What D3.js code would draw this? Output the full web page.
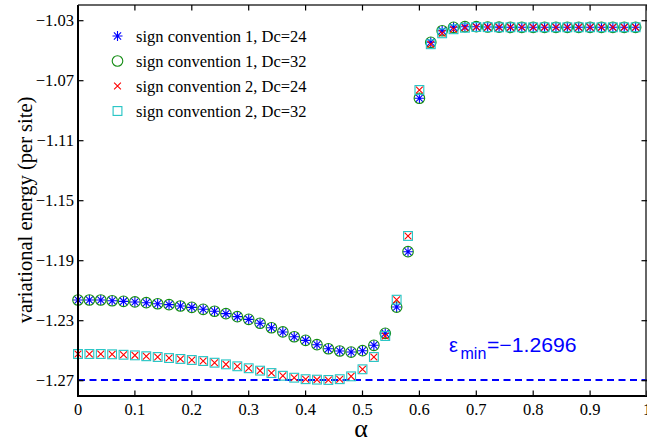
<!DOCTYPE html>
<html>
<head>
<meta charset="utf-8">
<script src="https://cdn.jsdelivr.net/npm/d3@7"></script>
<style>
  html, body { margin: 0; padding: 0; background: #fff; }
  svg { display: block; }
</style>
</head>
<body>
<svg id="chart" width="647" height="442"></svg>
<script>
// alpha grid
const alphas = d3.range(0, 50).map(i => +(i * 0.02).toFixed(2));

// sign convention 1 (Dc=24 and Dc=32 coincide)
const conv1 = [
  -1.2162, -1.2162, -1.2162, -1.2167, -1.2171, -1.2175, -1.2180, -1.2187, -1.2193, -1.2202,
  -1.2211, -1.2224, -1.2237, -1.2253, -1.2273, -1.2291, -1.2317, -1.2347, -1.2375, -1.2407,
  -1.2431, -1.2460, -1.2487, -1.2502, -1.2509, -1.2500, -1.2464, -1.2384, -1.2209, -1.1840,
  -1.0817, -1.0444, -1.0367, -1.0344, -1.0340, -1.0340, -1.0342, -1.0343, -1.0344, -1.0344,
  -1.0344, -1.0344, -1.0344, -1.0344, -1.0344, -1.0344, -1.0344, -1.0344, -1.0344, -1.0344
];
const conv1Dc32 = conv1.slice();

// sign convention 2
const conv2 = [
  -1.2522, -1.2522, -1.2522, -1.2524, -1.2527, -1.2531, -1.2537, -1.2542, -1.2549, -1.2555,
  -1.2562, -1.2569, -1.2580, -1.2591, -1.2604, -1.2617, -1.2633, -1.2649, -1.2667, -1.2680,
  -1.2690, -1.2693, -1.2695, -1.2690, -1.2671, -1.2624, -1.2542, -1.2402, -1.2160, -1.1735,
  -1.0762, -1.0457, -1.0384, -1.0357, -1.0347, -1.0342, -1.0343, -1.0344, -1.0344, -1.0344,
  -1.0344, -1.0344, -1.0344, -1.0344, -1.0344, -1.0344, -1.0344, -1.0344, -1.0344, -1.0344
];
const conv2Dc32 = conv2.slice();

const epsMin = -1.2696;

const xTicks = [0, 0.1, 0.2, 0.3, 0.4, 0.5, 0.6, 0.7, 0.8, 0.9, 1];
const yTicks = [-1.27, -1.23, -1.19, -1.15, -1.11, -1.07, -1.03];

const legendLabels = [
  "sign convention 1, Dc=24",
  "sign convention 1, Dc=32",
  "sign convention 2, Dc=24",
  "sign convention 2, Dc=32"
];

const svg = d3.select("#chart");
const L = 78, R = 647, T = 5, B = 396;

const x = d3.scaleLinear().domain([0, 1]).range([L, L + 569]);
const y = d3.scaleLinear().domain([-1.27, -1.03]).range([380.7, 20.7]);

const serif = "'Liberation Serif', 'Times New Roman', serif";
const sans = "'Liberation Sans', Arial, sans-serif";

// marker drawers
function star(g, cx, cy, color) {
  const r = 5;
  const d = r * 0.72;
  g.append("path")
    .attr("d", `M${cx - r},${cy}L${cx + r},${cy}M${cx},${cy - r}L${cx},${cy + r}` +
               `M${cx - d},${cy - d}L${cx + d},${cy + d}M${cx - d},${cy + d}L${cx + d},${cy - d}`)
    .attr("stroke", color).attr("stroke-width", 1.1).attr("fill", "none");
}
function circle(g, cx, cy, color) {
  g.append("circle").attr("cx", cx).attr("cy", cy).attr("r", 5.3)
    .attr("stroke", color).attr("stroke-width", 1.1).attr("fill", "none");
}
function cross(g, cx, cy, color) {
  const r = 3.4;
  g.append("path")
    .attr("d", `M${cx - r},${cy - r}L${cx + r},${cy + r}M${cx - r},${cy + r}L${cx + r},${cy - r}`)
    .attr("stroke", color).attr("stroke-width", 1.1).attr("fill", "none");
}
function square(g, cx, cy, color) {
  const h = 4.4;
  g.append("rect").attr("x", cx - h).attr("y", cy - h).attr("width", 2 * h).attr("height", 2 * h)
    .attr("stroke", color).attr("stroke-width", 1.1).attr("fill", "none");
}

const series = [
  { vals: conv1, draw: star, color: "#0000ff" },
  { vals: conv1Dc32, draw: circle, color: "#148c14" },
  { vals: conv2, draw: cross, color: "#ff0000" },
  { vals: conv2Dc32, draw: square, color: "#22c4c4" }
];

// minimum energy reference line
svg.append("line")
  .attr("x1", L).attr("x2", R).attr("y1", y(epsMin)).attr("y2", y(epsMin))
  .attr("stroke", "#0000ff").attr("stroke-width", 2).attr("stroke-dasharray", "7,4.5");

// data markers
const marks = svg.append("g");
series.forEach(s => {
  const g = marks.append("g");
  alphas.forEach((a, i) => s.draw(g, x(a), y(s.vals[i]), s.color));
});

// axes box
const axes = svg.append("g").attr("fill", "none").attr("stroke", "#000");
axes.append("line").attr("x1", L).attr("x2", L).attr("y1", T).attr("y2", B).attr("stroke-width", 2);
axes.append("line").attr("x1", L - 1).attr("x2", R).attr("y1", B).attr("y2", B).attr("stroke-width", 2);
axes.append("line").attr("x1", L).attr("x2", R).attr("y1", T).attr("y2", T).attr("stroke-width", 1.5).attr("stroke", "#333");
axes.append("line").attr("x1", R - 1).attr("x2", R - 1).attr("y1", T).attr("y2", B).attr("stroke-width", 1.5).attr("stroke", "#333");

// ticks pointing inward
xTicks.forEach(t => {
  axes.append("line").attr("x1", x(t)).attr("x2", x(t)).attr("y1", B).attr("y2", B - 5.5).attr("stroke-width", 1.2);
  axes.append("line").attr("x1", x(t)).attr("x2", x(t)).attr("y1", T).attr("y2", T + 5.5).attr("stroke-width", 1.2);
});
yTicks.forEach(t => {
  axes.append("line").attr("x1", L).attr("x2", L + 5.5).attr("y1", y(t)).attr("y2", y(t)).attr("stroke-width", 1.2);
  axes.append("line").attr("x1", R).attr("x2", R - 5.5).attr("y1", y(t)).attr("y2", y(t)).attr("stroke-width", 1.2);
});

// tick labels
const fmtX = d => (d === 0 || d === 1) ? String(d) : d.toFixed(1);
svg.append("g").selectAll("text").data(xTicks).join("text")
  .attr("x", d => x(d)).attr("y", 415)
  .attr("text-anchor", "middle")
  .attr("font-family", serif).attr("font-size", 16.5)
  .text(fmtX);

svg.append("g").selectAll("text").data(yTicks).join("text")
  .attr("x", 74).attr("y", d => y(d) + 5.5)
  .attr("text-anchor", "end")
  .attr("font-family", serif).attr("font-size", 16.5)
  .text(d => "\u2212" + Math.abs(d).toFixed(2));

// axis titles
svg.append("text")
  .attr("x", 361).attr("y", 437)
  .attr("text-anchor", "middle")
  .attr("font-family", serif).attr("font-size", 26)
  .text("\u03b1");

svg.append("text")
  .attr("transform", "translate(32,210) rotate(-90)")
  .attr("text-anchor", "middle")
  .attr("font-family", serif).attr("font-size", 20.5)
  .text("variational energy (per site)");

// minimum energy annotation
const ann = svg.append("text")
  .attr("font-family", sans).attr("font-size", 20).attr("fill", "#0000ff");
ann.append("tspan").attr("x", 449).attr("y", 351.5).text("\u03b5");
ann.append("tspan").attr("x", 460.5).attr("y", 358.5).attr("font-size", 16).text("min");
ann.append("tspan").attr("x", 487).attr("y", 351.5)
  .attr("textLength", 89.5).attr("lengthAdjust", "spacingAndGlyphs")
  .text("=\u22121.2696");

// legend
const legend = svg.append("g");
legendLabels.forEach((lab, i) => {
  const ly = 36 + i * 25;
  series[i].draw(legend, 117.5, ly, series[i].color);
  legend.append("text")
    .attr("x", 136).attr("y", ly + 5.5)
    .attr("font-family", serif).attr("font-size", 16.5)
    .text(lab);
});
</script>
</body>
</html>
